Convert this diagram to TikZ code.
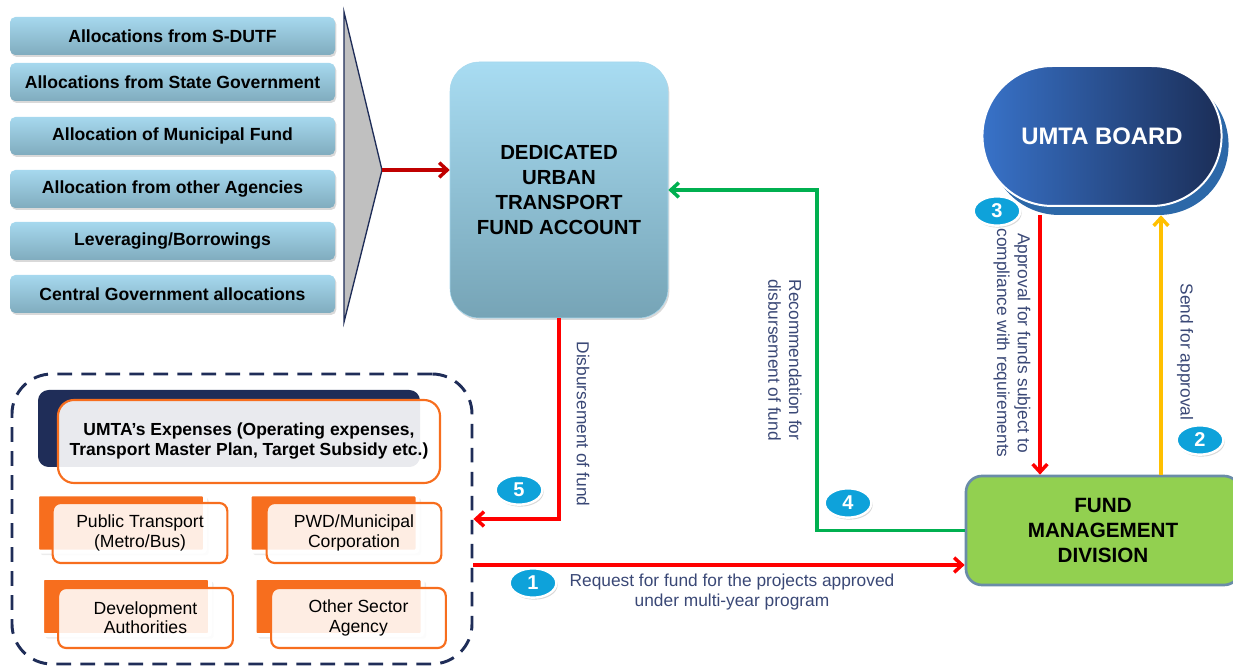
\documentclass[tikz,border=0pt]{standalone}
\usepackage{fontspec}
\setmainfont{Liberation Sans}
\usetikzlibrary{shapes.geometric,shapes.misc,shadows,arrows.meta}
\definecolor{srctop}{RGB}{166,216,238}
\definecolor{srcbot}{RGB}{128,172,190}
\definecolor{dutftop}{RGB}{168,220,242}
\definecolor{dutfbot}{RGB}{118,164,182}
\definecolor{navy}{RGB}{31,45,88}
\definecolor{lblnavy}{RGB}{58,72,118}
\definecolor{trigray}{RGB}{192,192,192}
\definecolor{boardl}{RGB}{56,114,200}
\definecolor{boardr}{RGB}{27,46,88}
\definecolor{boardsh}{RGB}{44,104,168}
\definecolor{fmdgreen}{RGB}{146,208,80}
\definecolor{fmdedge}{RGB}{106,140,168}
\definecolor{orng}{RGB}{247,110,30}
\definecolor{cyanb}{RGB}{14,162,218}
\definecolor{redl}{RGB}{255,0,0}
\definecolor{darkredl}{RGB}{192,0,0}
\definecolor{greenl}{RGB}{0,176,80}
\definecolor{yellowl}{RGB}{255,192,0}
\begin{document}
\begin{tikzpicture}[x=0.75pt,y=-0.75pt,
    srcbox/.style={rounded corners=4pt,top color=srctop,bottom color=srcbot,minimum width=243.75pt,minimum height=28.5pt,
      font=\bfseries\fontsize{13.2}{15}\selectfont,drop shadow={opacity=0.3,shadow xshift=1pt,shadow yshift=-1.5pt}},
    backtab/.style={fill=orng,minimum width=126pt,minimum height=43pt,rounded corners=2pt},
    fronttab/.style={draw=orng,line width=1.6pt,fill=white,fill opacity=0.88,text opacity=1,minimum width=131pt,minimum height=45pt,
      rounded corners=6pt,align=center,font=\fontsize{13.2}{14.5}\selectfont},
    numdot/.style={ellipse,fill=cyanb,draw=white,line width=1.8pt,minimum width=35pt,minimum height=22pt,text=white,inner sep=1pt,
      font=\bfseries\fontsize{15}{15}\selectfont,drop shadow={opacity=0.3,shadow xshift=1pt,shadow yshift=-1.5pt}},
    flowlbl/.style={text=lblnavy,font=\fontsize{13}{15.5}\selectfont,align=center},
    redline/.style={draw=redl,line width=2.6pt,-{Straight Barb[length=6pt,width=11pt]}},
    darkredline/.style={draw=darkredl,line width=2.6pt,-{Straight Barb[length=6pt,width=11pt]}},
    greenline/.style={draw=greenl,line width=2.6pt,-{Straight Barb[length=6pt,width=11pt]}},
    yellowline/.style={draw=yellowl,line width=2.6pt,-{Straight Barb[length=6pt,width=11pt]}}]
\useasboundingbox (0,0) rectangle (1233,666);
% fund sources
\node[srcbox] (src1) at (172.5,36) {Allocations from S-DUTF};
\node[srcbox] (src2) at (172.5,82) {Allocations from State Government};
\node[srcbox] (src3) at (172.5,136) {Allocation of Municipal Fund};
\node[srcbox] (src4) at (172.5,189) {Allocation from other Agencies};
\node[srcbox] (src5) at (172.5,241) {Leveraging/Borrowings};
\node[srcbox] (src6) at (172.5,294) {Central Government allocations};
\draw[fill=trigray,draw=navy,line width=1pt] (344,12) -- (382,170) coordinate (tip) -- (344,322) -- cycle; % funnel
% main account
\node[rounded corners=22pt,top color=dutftop,bottom color=dutfbot,draw=srctop,minimum width=163.5pt,minimum height=192pt,
  align=center,font=\bfseries\fontsize{15.3}{18.7}\selectfont,drop shadow={opacity=0.3,shadow xshift=1pt,shadow yshift=-1.5pt}]
  (dutf) at (559,190) {DEDICATED\\URBAN\\TRANSPORT\\FUND ACCOUNT};
% board
\node[rounded rectangle,fill=boardsh,minimum width=186pt,minimum height=105pt] (umtash) at (1109,145) {};
\node[rounded rectangle,left color=boardl,right color=boardr,draw=white,line width=1.5pt,minimum width=186pt,minimum height=105pt,
  text=white,font=\bfseries\fontsize{17.9}{17.9}\selectfont] (umta) at (1102,136) {UMTA BOARD};
\node[rounded corners=12pt,fill=fmdgreen,draw=fmdedge,line width=2pt,minimum width=205.5pt,minimum height=81.75pt,align=center,
  font=\bfseries\fontsize{15.5}{18.7}\selectfont] (fmd) at (1103,530.5) {FUND\\MANAGEMENT\\DIVISION};
% implementing agencies
\node[draw=navy,dashed,dash pattern=on 11pt off 7pt,line width=2.2pt,rounded corners=30pt,minimum width=345pt,minimum height=217.5pt] (expbox) at (242,519) {};
\node[fill=navy,rounded corners=8pt,minimum width=286.5pt,minimum height=57.75pt] (expback) at (229,428.5) {};
\node[draw=orng,line width=1.6pt,fill=white,fill opacity=0.9,text opacity=1,rounded corners=12pt,minimum width=286.5pt,minimum height=62.25pt,
  align=center,font=\bfseries\fontsize{13.1}{15}\selectfont] (exp) at (249,441.5) {UMTA’s Expenses (Operating expenses,\\Transport Master Plan, Target Subsidy etc.)};
\node[backtab,draw=white,line width=3pt,drop shadow={opacity=0.15}] (ptback) at (121,523) {};
\node[fronttab] (pt) at (140,533) {Public Transport\\(Metro/Bus)};
\node[backtab,draw=white,line width=3pt,drop shadow={opacity=0.15}] (pwdback) at (333.5,523) {};
\node[fronttab] (pwd) at (354,533) {PWD/Municipal\\Corporation};
\node[backtab,draw=white,line width=3pt,drop shadow={opacity=0.15}] (devback) at (126,606.5) {};
\node[fronttab] (dev) at (145.5,618) {Development\\Authorities};
\node[backtab,draw=white,line width=3pt,drop shadow={opacity=0.15}] (othback) at (338.5,606.5) {};
\node[fronttab] (oth) at (358.5,618) {Other Sector\\Agency};
% flows
\coordinate (req) at (0,565);
\coordinate (gturn) at (817,0);
\coordinate (apx) at (1040,0);
\coordinate (sdx) at (1161,0);
\draw[darkredline] (tip) -- (dutf.west |- tip);
\draw[redline] (expbox.east |- req) -- (fmd.west |- req); % 1
\draw[yellowline] (sdx |- fmd.north) -- (sdx |- umtash.south); % 2
\draw[redline] (apx |- umtash.south) -- (apx |- fmd.north); % 3
\draw[greenline] (fmd.west) -| (gturn |- dutf.east) -- (dutf.east); % 4
\draw[redline] (dutf.south) |- (expbox.east); % 5
\node[flowlbl] (reqlbl) at (732,592) {Request for fund for the projects approved\\under multi-year program};
\node[flowlbl,rotate=-90] (sendlbl) at (1185,352) {Send for approval};
\node[flowlbl,rotate=-90] (apprlbl) at (1012,343) {Approval for funds subject to\\compliance with requirements};
\node[flowlbl,rotate=-90] (reclbl) at (785,360) {Recommendation for\\disbursement of fund};
\node[flowlbl,rotate=-90] (dislbl) at (583,424) {Disbursement of fund};
\node[numdot] (n1) at (533,583) {1};
\node[numdot] (n2) at (1200,440) {2};
\node[numdot] (n3) at (997,211) {3};
\node[numdot] (n4) at (848,503) {4};
\node[numdot] (n5) at (519,490) {5};
\end{tikzpicture}
\end{document}
